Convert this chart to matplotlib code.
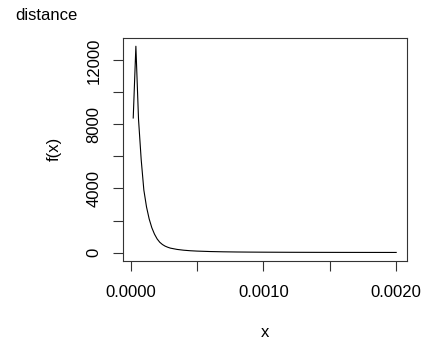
import matplotlib
matplotlib.use("Agg")
import matplotlib.pyplot as plt
import numpy as np

plt.rcParams["font.family"] = ["Liberation Sans", "DejaVu Sans"]

# values
x_vals = np.array([2, 4, 6, 8, 10, 12, 14, 16, 18, 20, 22, 24, 26, 28, 30,
                   35, 40, 45, 50, 60, 70, 80, 90, 100, 120, 140, 160, 180, 200]) * 1e-5
f_vals = [8400, 12880, 8300, 5800, 3900, 2850, 2100, 1550, 1150, 850, 640, 500, 400, 330, 275,
          195, 145, 112, 90, 62, 45, 34, 27, 22, 15, 11, 8.5, 6.8, 5.5]

x_ticks = [0.0, 0.0005, 0.0010, 0.0015, 0.0020]
x_labels = ["0.0000", "", "0.0010", "", "0.0020"]
y_ticks = [0, 2000, 4000, 6000, 8000, 10000, 12000]
y_labels = ["0", "", "4000", "", "8000", "", "12000"]

fig = plt.figure(figsize=(4.24, 3.41), dpi=100)
ax = fig.add_axes([0.2894, 0.2355, 0.6698, 0.6531])

ax.plot(x_vals, f_vals, color="black", linewidth=0.8)

# R-style 4% padding
xr = x_vals.max() - x_vals.min()
ax.set_xlim(x_vals.min() - 0.04 * xr, x_vals.max() + 0.04 * xr)
yr = max(f_vals) - min(f_vals)
ax.set_ylim(min(f_vals) - 0.04 * yr, max(f_vals) + 0.04 * yr)

ax.set_xticks(x_ticks)
ax.set_xticklabels(x_labels)
ax.set_yticks(y_ticks)
ax.set_yticklabels(y_labels, rotation=90, va="center")
ax.tick_params(axis="both", length=7.2, width=0.8, labelsize=12, color="#333333")
ax.tick_params(axis="x", pad=10)
ax.tick_params(axis="y", pad=8)

for s in ax.spines.values():
    s.set_linewidth(0.8)
    s.set_color("#333333")

ax.set_xlabel("x", fontsize=12, labelpad=18)
ax.set_ylabel("f(x)", fontsize=12, labelpad=18)
fig.text(15 / 424, 1 - 16 / 341, "distance", fontsize=12, ha="left", va="center")

fig.savefig("out.png", dpi=100)
